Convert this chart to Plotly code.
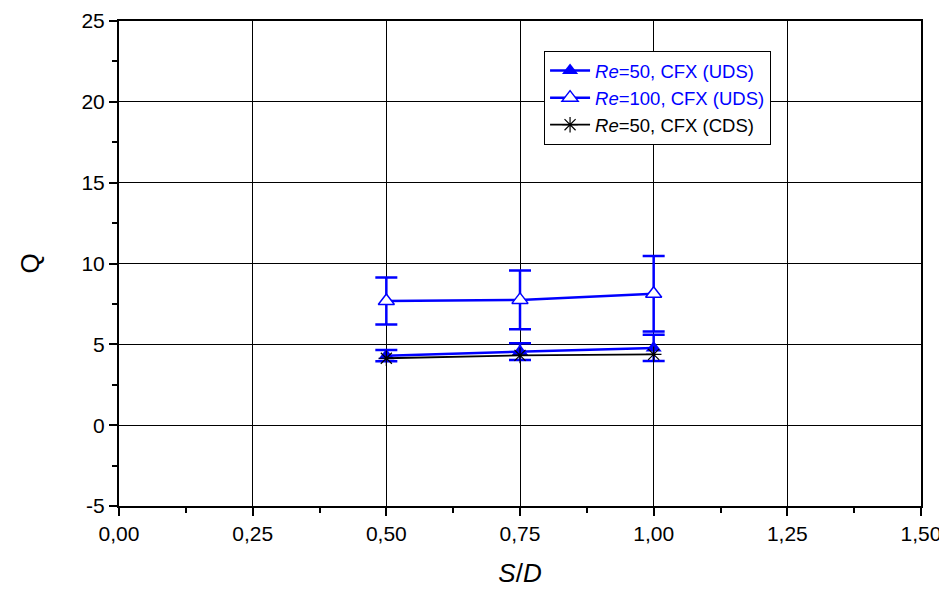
import plotly.graph_objects as go

# S/D positions
sd = [0.50, 0.75, 1.00]

# Re=50, CFX (UDS)
q_re50_uds = [4.30, 4.55, 4.78]
err_re50_uds = [0.35, 0.52, 0.81]

# Re=100, CFX (UDS)
q_re100_uds = [7.68, 7.75, 8.13]
err_re100_uds = [1.45, 1.82, 2.33]

# Re=50, CFX (CDS)
q_re50_cds = [4.14, 4.32, 4.38]

x_ticks = [0, 0.25, 0.5, 0.75, 1.0, 1.25, 1.5]
y_ticks = [-5, 0, 5, 10, 15, 20, 25]

BLUE = '#0000FF'
FONT = 'Liberation Sans, Arial, sans-serif'

fig = go.Figure()

fig.add_trace(go.Scatter(
    x=sd, y=q_re50_uds,
    mode='lines+markers',
    name="<span style='color:#0000FF'><i>Re</i>=50, CFX (UDS)</span>",
    line=dict(color=BLUE, width=2.5),
    marker=dict(symbol='triangle-up', size=14, color=BLUE),
    error_y=dict(type='data', array=err_re50_uds, color=BLUE, thickness=2.5, width=11),
))
fig.add_trace(go.Scatter(
    x=sd, y=q_re100_uds,
    mode='lines+markers',
    name="<span style='color:#0000FF'><i>Re</i>=100, CFX (UDS)</span>",
    line=dict(color=BLUE, width=2.5),
    marker=dict(symbol='triangle-up', size=14, color='white',
                line=dict(color=BLUE, width=1.5)),
    error_y=dict(type='data', array=err_re100_uds, color=BLUE, thickness=2.5, width=11),
))
fig.add_trace(go.Scatter(
    x=sd, y=q_re50_cds,
    mode='lines+markers',
    name="<i>Re</i>=50, CFX (CDS)",
    line=dict(color='black', width=1.8),
    marker=dict(symbol='asterisk-open', size=13, color='black',
                line=dict(color='black', width=1.2)),
))

axis_common = dict(
    showline=True, linecolor='black', linewidth=2, mirror=True,
    showgrid=True, gridcolor='black', gridwidth=1,
    zeroline=False, automargin=False,
    ticks='outside', ticklen=8, tickwidth=1.5, tickcolor='black',
    tickfont=dict(family=FONT, size=21, color='black'),
)

fig.update_xaxes(
    range=[0, 1.5], tickvals=x_ticks, tickformat='.2f',
    minor=dict(dtick=0.125, ticks='outside', ticklen=5, tickcolor='black', showgrid=False),
    title=dict(text='<i>S</i>/<i>D</i>', font=dict(family=FONT, size=26, color='black'), standoff=20),
    **axis_common,
)
fig.update_yaxes(
    range=[-5, 25], tickvals=y_ticks, ticktext=[str(v) for v in y_ticks],
    minor=dict(dtick=2.5, ticks='outside', ticklen=5, tickcolor='black', showgrid=False),
    title=dict(text='Q', font=dict(family=FONT, size=26, color='black'), standoff=34),
    **axis_common,
)

# page body adds an 8px offset, so the figure is sized to fit the window
fig.update_layout(
    template='none',
    width=939, height=584,
    margin=dict(l=111, r=26, t=13, b=86),
    paper_bgcolor='white', plot_bgcolor='white',
    separators=',.',
    font=dict(family=FONT, color='black'),
    showlegend=True,
    legend=dict(
        x=0.530, y=0.938, xanchor='left', yanchor='top',
        bgcolor='white', bordercolor='black', borderwidth=1,
        font=dict(family=FONT, size=18.5, color='black'),
        tracegroupgap=0, itemwidth=40,
    ),
)

fig.write_html("out.html")
